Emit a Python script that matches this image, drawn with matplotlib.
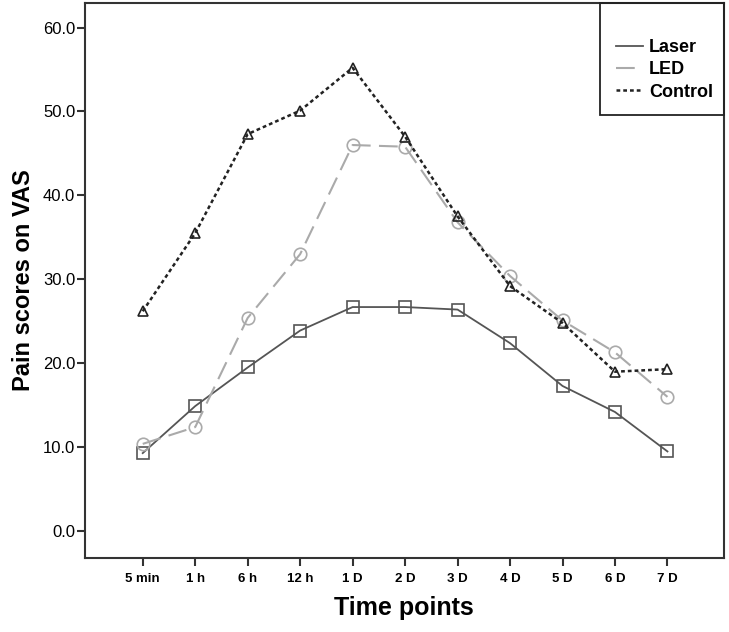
import matplotlib
matplotlib.use("Agg")
import matplotlib.pyplot as plt
from matplotlib.patches import Rectangle

plt.rcParams['font.family'] = ['Liberation Sans', 'DejaVu Sans']

# data
time_points = ["5 min", "1 h", "6 h", "12 h", "1 D", "2 D", "3 D", "4 D", "5 D", "6 D", "7 D"]
laser = [9.3, 14.9, 19.5, 23.9, 26.7, 26.7, 26.4, 22.4, 17.3, 14.2, 9.5]
led = [10.4, 12.4, 25.4, 33.0, 46.0, 45.8, 36.8, 30.4, 25.1, 21.3, 16.0]
control = [26.2, 35.5, 47.3, 50.1, 55.2, 47.0, 37.5, 29.2, 24.8, 19.0, 19.3]
y_ticks = [0, 10, 20, 30, 40, 50, 60]

fig = plt.figure(figsize=(7.29, 6.32), dpi=100)
ax = fig.add_axes([0.1166, 0.117, 0.876, 0.878])

x = list(range(len(time_points)))
ax.plot(x, laser, color="#555555", lw=1.3, ls="-", marker="s", ms=9,
        mfc="none", mec="#555555", mew=1.2, label="Laser")
ax.plot(x, led, color="#aaaaaa", lw=1.5, ls=(0, (9, 4)), marker="o", ms=9,
        mfc="none", mec="#aaaaaa", mew=1.2, label="LED")
ax.plot(x, control, color="#222222", lw=1.8, ls=(0, (1.5, 1.2)), marker="^", ms=7,
        mfc="none", mec="#222222", mew=1.2, label="Control")

ax.set_xlim(-1.1, 11.07)
ax.set_ylim(-3.2, 62.9)
ax.set_xticks(x)
ax.set_xticklabels(time_points, fontsize=9.5, fontweight="bold")
ax.set_yticks(y_ticks)
ax.set_yticklabels(["%.1f" % v for v in y_ticks], fontsize=12)
ax.tick_params(axis="both", direction="out", length=6, width=1.5, color="#333333")
ax.tick_params(axis="x", pad=5)
ax.tick_params(axis="y", pad=1)

for s in ax.spines.values():
    s.set_linewidth(1.5)
    s.set_color("#333333")

ax.set_xlabel("Time points", fontsize=18, fontweight="bold", labelpad=8)
ax.set_ylabel("Pain scores on VAS", fontsize=17, fontweight="bold", labelpad=6)

# legend box in upper right corner
ax.add_patch(Rectangle((0.806, 0.798), 0.194, 0.202, transform=ax.transAxes,
                       fill=False, ec="#222222", lw=1.3, clip_on=False, zorder=5))
leg = ax.legend(loc="upper right", bbox_to_anchor=(1.0, 0.955), frameon=False,
                fontsize=13, handlelength=1.5, handletextpad=0.3, labelspacing=0.3,
                borderaxespad=0.2)
for t in leg.get_texts():
    t.set_fontweight("bold")
for h in leg.legend_handles:
    h.set_marker("")

fig.savefig("out.png", dpi=100)
